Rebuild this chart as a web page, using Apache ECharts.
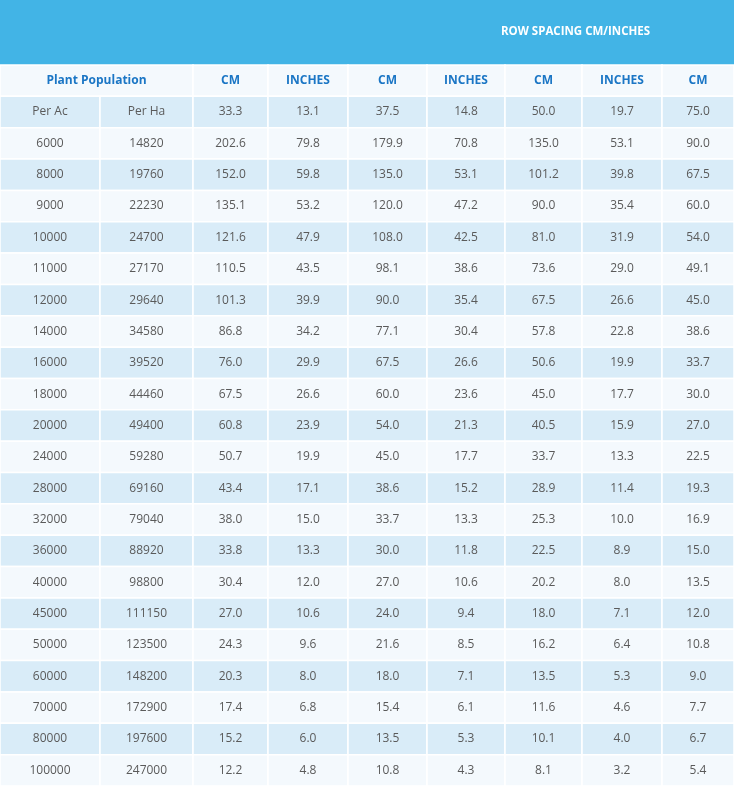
<!DOCTYPE html>
<html><head><meta charset="utf-8">
<script src="https://cdn.jsdelivr.net/npm/echarts@6/dist/echarts.min.js"></script>
<style>html,body{margin:0;padding:0;background:#fff}#c{width:734px;height:786px}</style>
</head><body><div id="c"></div>
<script>
const title = "ROW SPACING CM/INCHES";
const headers = ["Plant Population", "CM", "INCHES", "CM", "INCHES", "CM", "INCHES", "CM"];
const perAc = ["Per Ac","6000","8000","9000","10000","11000","12000","14000","16000","18000","20000","24000","28000","32000","36000","40000","45000","50000","60000","70000","80000","100000"];
const perHa = ["Per Ha","14820","19760","22230","24700","27170","29640","34580","39520","44460","49400","59280","69160","79040","88920","98800","111150","123500","148200","172900","197600","247000"];
const cm333 = ["33.3","202.6","152.0","135.1","121.6","110.5","101.3","86.8","76.0","67.5","60.8","50.7","43.4","38.0","33.8","30.4","27.0","24.3","20.3","17.4","15.2","12.2"];
const in131 = ["13.1","79.8","59.8","53.2","47.9","43.5","39.9","34.2","29.9","26.6","23.9","19.9","17.1","15.0","13.3","12.0","10.6","9.6","8.0","6.8","6.0","4.8"];
const cm375 = ["37.5","179.9","135.0","120.0","108.0","98.1","90.0","77.1","67.5","60.0","54.0","45.0","38.6","33.7","30.0","27.0","24.0","21.6","18.0","15.4","13.5","10.8"];
const in148 = ["14.8","70.8","53.1","47.2","42.5","38.6","35.4","30.4","26.6","23.6","21.3","17.7","15.2","13.3","11.8","10.6","9.4","8.5","7.1","6.1","5.3","4.3"];
const cm500 = ["50.0","135.0","101.2","90.0","81.0","73.6","67.5","57.8","50.6","45.0","40.5","33.7","28.9","25.3","22.5","20.2","18.0","16.2","13.5","11.6","10.1","8.1"];
const in197 = ["19.7","53.1","39.8","35.4","31.9","29.0","26.6","22.8","19.9","17.7","15.9","13.3","11.4","10.0","8.9","8.0","7.1","6.4","5.3","4.6","4.0","3.2"];
const cm750 = ["75.0","90.0","67.5","60.0","54.0","49.1","45.0","38.6","33.7","30.0","27.0","22.5","19.3","16.9","15.0","13.5","12.0","10.8","9.0","7.7","6.7","5.4"];

const columns = [perAc, perHa, cm333, in131, cm375, in148, cm500, in197, cm750];
// layout: column edges in pixels
const colEdges = [0, 100, 193, 268, 348, 427, 505, 582, 662, 734];
const nRows = perAc.length + 1;
const rowNames = Array.from({length: nRows}, (_, i) => 'r' + i);

const cells = [];
cells.push({value: [0, 0, headers[0], 2], header: true});
for (let c = 1; c < headers.length; c++) cells.push({value: [c + 1, 0, headers[c], 1], header: true});
columns.forEach((col, c) => col.forEach((t, r) => cells.push({value: [c, r + 1, t, 1]})));

const chart = echarts.init(document.getElementById('c'), null, {renderer: 'canvas'});
chart.setOption({
  animation: false,
  backgroundColor: '#ffffff',
  title: {text: title, left: 496, top: 21, textStyle: {color: '#ffffff', fontSize: 11.5, fontWeight: 'bold', fontFamily: 'Open Sans'}},
  graphic: [{type: 'rect', z: -1, shape: {x: 0, y: 0, width: 734, height: 65}, style: {fill: '#42b4e6'}}],
  grid: {left: 0, right: 0, top: 65, bottom: 0},
  xAxis: {type: 'value', min: 0, max: 734, show: false},
  yAxis: {type: 'category', data: rowNames, inverse: true, show: false},
  series: [{
    type: 'custom',
    data: cells,
    renderItem: function (params, api) {
      const c = api.value(0), r = api.value(1), span = api.value(3);
      const txt = cells[params.dataIndex].value[2];
      const isHead = r === 0;
      const x0 = api.coord([colEdges[c], rowNames[r]]);
      const x1 = api.coord([colEdges[c + span], rowNames[r]]);
      const h = api.size([0, 1])[1];
      const top = x0[1] - h / 2;
      const fill = isHead ? '#f4f9fd' : ((r - 1) % 2 === 0 ? '#d9ecf8' : '#f4f9fd');
      return {
        type: 'group',
        children: [
          {type: 'rect', shape: {x: x0[0], y: top, width: x1[0] - x0[0], height: h},
           style: {fill: fill, stroke: '#ffffff', lineWidth: 1.5}},
          {type: 'text', style: {text: txt, x: (x0[0] + x1[0]) / 2, y: x0[1], align: 'center', verticalAlign: 'middle',
            fill: isHead ? '#1b76c5' : '#5a5a5a', fontSize: 12, fontWeight: isHead ? 'bold' : 'normal',
            fontFamily: 'Open Sans'}}
        ]
      };
    }
  }]
});
</script></body></html>
